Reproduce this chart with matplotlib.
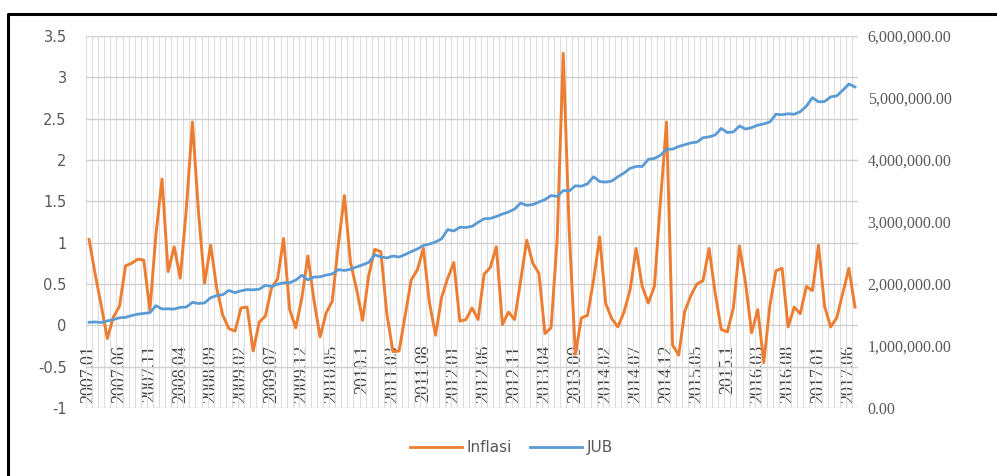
import numpy as np
import matplotlib
matplotlib.use("Agg")
import matplotlib.pyplot as plt
from matplotlib.lines import Line2D
from matplotlib.ticker import FuncFormatter

# monthly data 2007.01 - 2017.07
inflasi = [
    1.04, 0.62, 0.24, -0.16, 0.10, 0.23, 0.72, 0.75, 0.80, 0.79, 0.18, 1.10,
    1.77, 0.65, 0.95, 0.57, 1.41, 2.46, 1.37, 0.51, 0.97, 0.45, 0.12, -0.04,
    -0.07, 0.21, 0.22, -0.31, 0.04, 0.11, 0.45, 0.56, 1.05, 0.19, -0.03, 0.33,
    0.84, 0.30, -0.14, 0.15, 0.29, 0.97, 1.57, 0.76, 0.44, 0.06, 0.60, 0.92,
    0.89, 0.13, -0.32, -0.31, 0.12, 0.55, 0.67, 0.93, 0.27, -0.12, 0.34, 0.57,
    0.76, 0.05, 0.07, 0.21, 0.07, 0.62, 0.70, 0.95, 0.01, 0.16, 0.07, 0.54,
    1.03, 0.75, 0.63, -0.10, -0.03, 1.03, 3.29, 1.12, -0.35, 0.09, 0.12, 0.55,
    1.07, 0.26, 0.08, -0.02, 0.16, 0.43, 0.93, 0.47, 0.27, 0.47, 1.50, 2.46,
    -0.24, -0.36, 0.17, 0.36, 0.50, 0.54, 0.93, 0.39, -0.05, -0.08, 0.21, 0.96,
    0.51, -0.09, 0.19, -0.45, 0.24, 0.66, 0.69, -0.02, 0.22, 0.14, 0.47, 0.42,
    0.97, 0.23, -0.02, 0.09, 0.39, 0.69, 0.22,
]

jub = [
    1382493, 1387220, 1379237, 1403903, 1425685, 1454577, 1461044, 1491187, 1512788, 1524718, 1536403, 1649662,
    1596428, 1599584, 1594390, 1623346, 1628150, 1703381, 1685956, 1694583, 1778139, 1813284, 1827154, 1895839,
    1859891, 1890770, 1909681, 1905475, 1916752, 1977533, 1960950, 1995294, 2018510, 2021517, 2062206, 2141384,
    2066481, 2112083, 2116024, 2143234, 2161600, 2231144, 2217589, 2236459, 2274955, 2308846, 2347807, 2471206,
    2436679, 2420191, 2451357, 2434478, 2475286, 2522784, 2564556, 2621346, 2643331, 2677787, 2729538, 2877220,
    2854978, 2914194, 2911920, 2929610, 2994474, 3052786, 3057335, 3089011, 3128179, 3161727, 3207908, 3304645,
    3268789, 3280420, 3322529, 3360928, 3426305, 3413379, 3506573, 3502419, 3584081, 3576869, 3615973, 3730197,
    3652349, 3643059, 3660606, 3730376, 3789278, 3865891, 3895981, 3895374, 4010146, 4024488, 4076669, 4173327,
    4174826, 4218122, 4246361, 4275711, 4288369, 4358801, 4373208, 4404085, 4508603, 4443078, 4452324, 4548800,
    4498361, 4521951, 4561873, 4581877, 4614061, 4737451, 4730379, 4746027, 4737630, 4778478, 4868651, 5004977,
    4936882, 4942920, 5017643, 5033780, 5126370, 5225165, 5178078,
]

tick_labels = [
    "2007.01", "2007.06", "2007.11", "2008.04", "2008.09", "2009.02", "2009.07",
    "2009.12", "2010.05", "2010.1", "2011.03", "2011.08", "2012.01", "2012.06",
    "2012.11", "2013.04", "2013.09", "2014.02", "2014.07", "2014.12", "2015.05",
    "2015.1", "2016.03", "2016.08", "2017.01", "2017.06",
]

orange = "#ED7D31"
blue = "#5B9BD5"
grey = "#595959"

x = np.arange(len(inflasi))

fig = plt.figure(figsize=(9.97, 4.76), dpi=100)
ax = fig.add_axes([0.0863, 0.1429, 0.7743, 0.7815])
# category axis crosses at 0, labels hang below it
ax.spines["bottom"].set_position(("data", 0))
ax2 = ax.twinx()

ax.plot(x, inflasi, color=orange, lw=2.1, solid_joinstyle="round", zorder=3)
ax2.plot(x, jub, color=blue, lw=2.0, solid_joinstyle="round", zorder=3)

ax.set_xlim(-0.5, len(x) - 0.5)
ax.set_ylim(-1, 3.5)
ax.set_yticks(np.arange(-1, 3.51, 0.5))
ax.yaxis.set_major_formatter(FuncFormatter(lambda v, p: f"{v:g}"))
ax2.set_ylim(0, 6000000)
ax2.set_yticks(np.arange(0, 6000001, 1000000))
ax2.yaxis.set_major_formatter(FuncFormatter(lambda v, p: f"{v:,.2f}"))

# gridlines
ax.set_xticks(np.arange(-0.5, len(x), 1), minor=True)
ax.grid(axis="x", which="minor", color="#dedede", lw=0.8)
ax.grid(axis="y", which="major", color="#d0d0d0", lw=1.0)
ax.set_axisbelow(True)

ax.set_xticks(x[::5])
ax.set_xticklabels(tick_labels)
ax.tick_params(axis="x", which="both", length=0, pad=14)
for lab in ax.get_xticklabels():
    lab.set_rotation(90)
    lab.set_family("Liberation Serif")
    lab.set_fontsize(13)
    lab.set_color("#404040")
ax.tick_params(axis="y", length=0, pad=14, labelsize=10.5, labelcolor=grey)
ax2.tick_params(axis="y", length=0, pad=7, labelsize=11.5, labelcolor=grey)
for lab in ax2.get_yticklabels():
    lab.set_family("Liberation Serif")

for a in (ax, ax2):
    for s in a.spines.values():
        s.set_visible(False)

handles = [Line2D([], [], color=orange, lw=2), Line2D([], [], color=blue, lw=2)]
fig.legend(handles, ["Inflasi", "JUB"], loc="center", bbox_to_anchor=(0.513, 0.059),
           ncol=2, frameon=False, handlelength=3.4, handletextpad=0.3,
           columnspacing=1.2, prop={"size": 11}, labelcolor=grey)

# outer chart frame (only left and top edges are in view)
fig.add_artist(Line2D([0.008, 0.008, 1.0], [0.0, 0.9706, 0.9706],
                      transform=fig.transFigure, color="black", lw=2.2))

fig.savefig("out.png", dpi=100)
